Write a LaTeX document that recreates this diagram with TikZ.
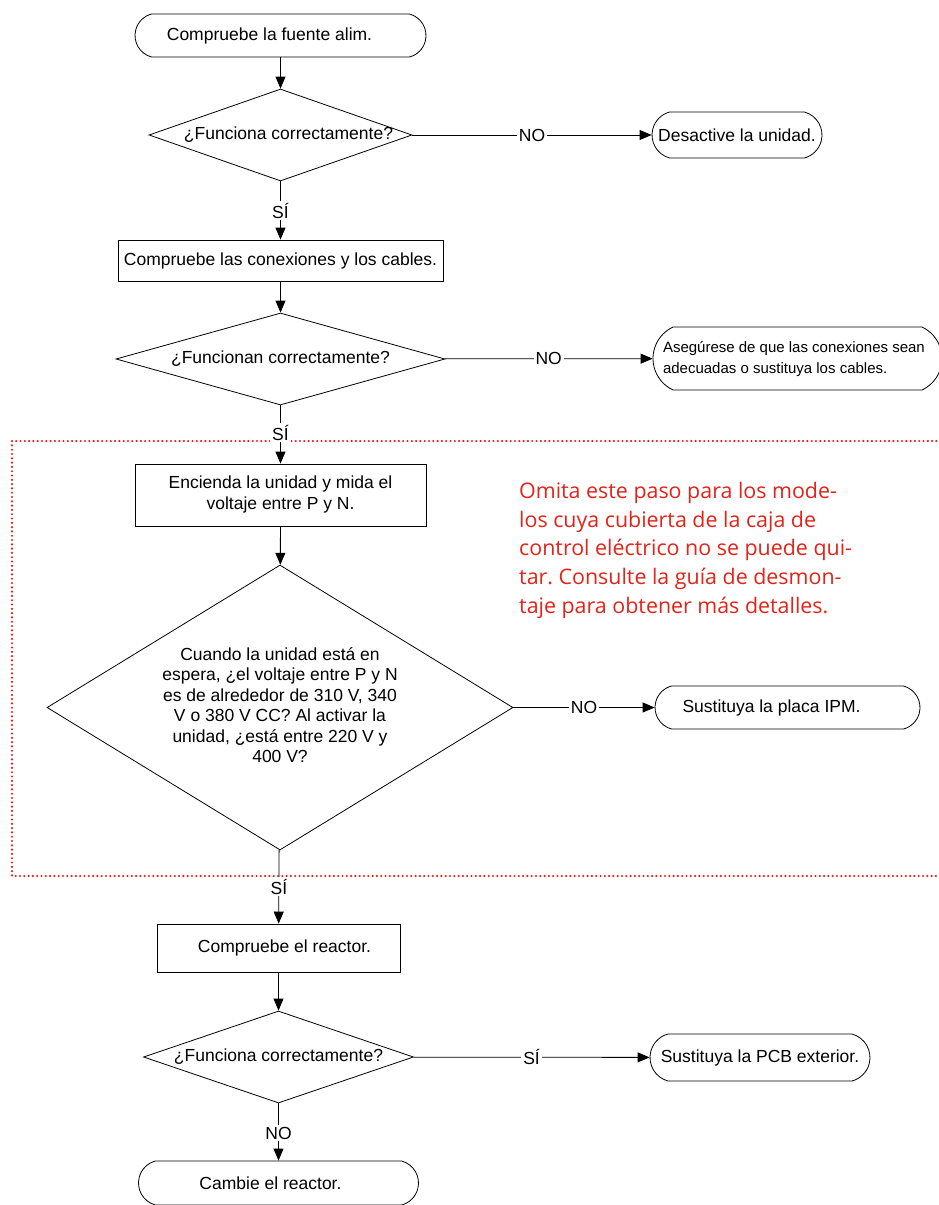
\documentclass[tikz,border=0pt]{standalone}
\usepackage{fontspec}
\setmainfont{Liberation Sans}
\newfontfamily\notefont{Open Sans}
\usetikzlibrary{shapes.geometric,shapes.misc,arrows.meta}
\definecolor{notered}{HTML}{E2231A}
\newcommand{\ctrtxt}[1]{\makebox[0pt]{#1}}
\newcommand{\ctrlines}[1]{\makebox[0pt]{\begin{tabular}{@{}c@{}}#1\end{tabular}}}
\frenchspacing
\begin{document}
\begin{tikzpicture}[x=1pt,y=-1pt,
  font=\fontsize{17.5}{20.5}\selectfont,
  every node/.style={inner sep=0pt},
  term/.style={draw, rounded rectangle, rounded rectangle arc length=150, line width=0.8pt},
  proc/.style={draw, rectangle, line width=0.8pt},
  dec/.style={draw, diamond, line width=0.8pt},
  flow/.style={line width=0.8pt, -{Triangle[length=12pt,width=10pt]}},
  lbl/.style={fill=white, inner sep=2pt},
  frame/.style={draw=notered, line width=2.4pt, dash pattern=on 0pt off 4.3pt, line cap=round},
]
\useasboundingbox (0,0) rectangle (938,1205);

% frame
\coordinate (fa) at (945,441);
\coordinate (fb) at (12,441);
\coordinate (fc) at (12,876);
\coordinate (fd) at (945,876);
\draw[frame] (fa) -- (fb) -- (fc) -- (fd);

% nodes
\node[term, minimum width=291pt, minimum height=43pt] (t1) at (280.5,35.5) {\ctrtxt{Compruebe la fuente alim.\hspace*{22pt}}};
\node[dec, minimum width=263pt, minimum height=92pt] (d1) at (280.5,135) {\ctrtxt{\hspace*{16pt}¿Funciona correctamente?}};
\node[term, minimum width=170pt, minimum height=46pt] (t2) at (737,135) {\ctrtxt{Desactive la unidad.}};
\node[proc, minimum width=325pt, minimum height=41pt] (b2) at (280.5,260.5) {\ctrtxt{Compruebe las conexiones y los cables.}};
\node[dec, minimum width=329pt, minimum height=92pt] (d2) at (280.5,359) {\ctrtxt{¿Funcionan correctamente?}};
\node[term, rounded rectangle arc length=130, minimum width=289pt, minimum height=63pt] (t3) at (797.5,358.5)
  {\makebox[0pt][l]{\hspace*{-134.5pt}\fontsize{15}{21}\selectfont\begin{tabular}{@{}l@{}}Asegúrese de que las conexiones sean\\adecuadas o sustituya los cables.\end{tabular}}};
\node[proc, minimum width=291pt, minimum height=62pt] (b3) at (280.5,495) {\ctrlines{Encienda la unidad y mida el\\voltaje entre P y N.}};
\node[dec, minimum width=466pt, minimum height=285pt] (d3) at (280,707.5) {\ctrlines{Cuando la unidad está en\\espera, ¿el voltaje entre P y N\\es de alrededor de 310 V, 340\\V o 380 V CC? Al activar la\\unidad, ¿está entre 220 V y\\400 V?}};
\node[term, minimum width=265pt, minimum height=43pt] (t4) at (787.5,707.5) {\ctrtxt{Sustituya la placa IPM.\hspace*{32pt}}};
\node[anchor=north west, text=notered, font=\notefont\fontsize{21.4}{28.75}\selectfont, align=left] (note) at (519,482)
  {Omita este paso para los mode-\\los cuya cubierta de la caja de\\control eléctrico no se puede qui-\\tar. Consulte la guía de desmon-\\taje para obtener más detalles.};
\node[proc, minimum width=243pt, minimum height=48pt] (b4) at (278.5,948) {\ctrtxt{\hspace*{12pt}Compruebe el reactor.}};
\node[dec, minimum width=270pt, minimum height=92pt] (d4) at (278.5,1057) {\ctrtxt{¿Funciona correctamente?}};
\node[term, minimum width=220pt, minimum height=47pt] (t5) at (760,1057.5) {\ctrtxt{Sustituya la PCB exterior.}};
\node[term, minimum width=280pt, minimum height=44pt] (t6) at (278.5,1183) {\ctrtxt{Cambie el reactor.\hspace*{16pt}}};

% connectors
\draw[flow] (t1) -- (d1);
\draw[flow] (d1) -- node[lbl] {NO} (t2);
\draw[flow] (d1) -- node[lbl] {SÍ} (b2);
\draw[flow] (b2) -- (d2);
\draw[flow] (d2) -- node[lbl] {NO} (t3);
\draw[flow] (d2) -- node[lbl, pos=0.47] {SÍ} (b3);
\draw[flow] (b3) -- (d3);
\draw[flow] (d3) -- node[lbl] {NO} (t4);
\draw[flow] (d3) -- node[lbl] {SÍ} (b4);
\draw[flow] (b4) -- (d4);
\draw[flow] (d4) -- node[lbl] {SÍ} (t5);
\draw[flow] (d4) -- node[lbl, pos=0.52] {NO} (t6);
\end{tikzpicture}
\end{document}
